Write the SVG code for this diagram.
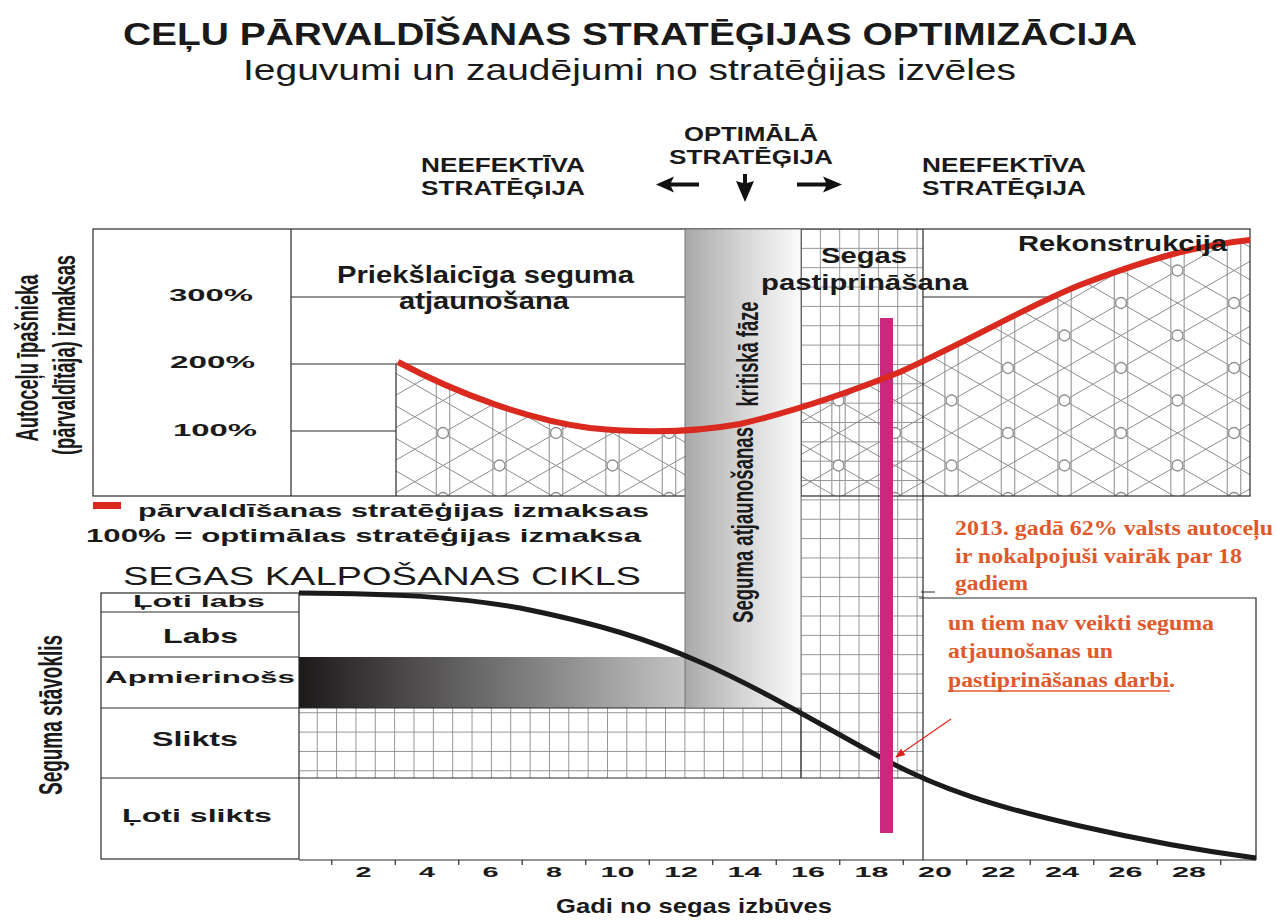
<svg xmlns="http://www.w3.org/2000/svg" width="1277" height="920" viewBox="0 0 1277 920">
<style>
.b{font-family:"Liberation Sans",Arial,sans-serif;font-weight:bold;fill:#1a1a1a}
.r{font-family:"Liberation Sans",Arial,sans-serif;fill:#1a1a1a}
.n{font-family:"Liberation Sans Narrow","Liberation Sans",Arial,sans-serif;font-weight:bold;fill:#1a1a1a}
.ann{font-family:"Liberation Serif","Times New Roman",serif;font-weight:bold;fill:#e0592b;font-size:20px}
.ln{stroke:#2a2a2a;stroke-width:1.2;fill:none}
.hd{stroke:#8c8c8c;stroke-width:1;fill:none}
.hv{stroke:#a3a7ab;stroke-width:1.3;fill:none}
.ax{font-family:"Liberation Sans",Arial,sans-serif;font-weight:bold;fill:#1a1a1a;font-size:15px}
</style>
<defs>
<pattern id="grid" patternUnits="userSpaceOnUse" x="800.5" y="228.5" width="19.35" height="19.35">
<path d="M0,0.5 H19.35 M0.5,0 V19.35" stroke="#8a8a8a" stroke-width="0.9" fill="none"/>
</pattern>
<pattern id="hatch" patternUnits="userSpaceOnUse" x="330" y="43" width="113" height="65">
<path class="hv" d="M6.7,0 V65 M49.8,0 V65 M63.2,0 V65 M106.3,0 V65"/>
<path class="hd" d="M-10,-5.75 L123,70.75 M56.5,0 L123,38.25 M-10,26.75 L66.5,70.75 M-10,70.75 L123,-5.75 M-10,38.25 L66.5,-5.75 M46.5,70.75 L123,26.75"/>
<g fill="#fff" stroke="#8a8a8a" stroke-width="1.3">
<circle cx="0" cy="0" r="5.5"/><circle cx="113" cy="0" r="5.5"/><circle cx="0" cy="65" r="5.5"/><circle cx="113" cy="65" r="5.5"/><circle cx="56.5" cy="32.5" r="5.5"/>
</g>
</pattern>
<linearGradient id="colg" x1="0" y1="0" x2="1" y2="0">
<stop offset="0" stop-color="#a9a9a9"/><stop offset="0.5" stop-color="#d5d5d5"/><stop offset="1" stop-color="#fbfbfb"/>
</linearGradient>
<linearGradient id="barg" gradientUnits="userSpaceOnUse" x1="299" y1="0" x2="801" y2="0">
<stop offset="0" stop-color="#1c1919"/><stop offset="0.77" stop-color="#c4c4c4"/><stop offset="1" stop-color="#e8e8e8"/>
</linearGradient>
<marker id="ra" markerWidth="10" markerHeight="8" refX="9" refY="4" orient="auto" markerUnits="userSpaceOnUse">
<path d="M0,0 L10,4 L0,8 Z" fill="#e0201a"/>
</marker>
</defs>
<rect width="1277" height="920" fill="#fff"/>

<g id="title">
<text class="b" x="123" y="45" font-size="32" textLength="1014" lengthAdjust="spacingAndGlyphs">CEĻU PĀRVALDĪŠANAS STRATĒĢIJAS OPTIMIZĀCIJA</text>
<text class="r" x="243" y="80" font-size="30" textLength="773" lengthAdjust="spacingAndGlyphs">Ieguvumi un zaudējumi no stratēģijas izvēles</text>
</g>

<g id="strategy-left">
<text class="b" x="421" y="172" font-size="21" textLength="164" lengthAdjust="spacingAndGlyphs">NEEFEKTĪVA</text>
<text class="b" x="421" y="195" font-size="21" textLength="164" lengthAdjust="spacingAndGlyphs">STRATĒĢIJA</text>
</g>
<g id="strategy-optimal">
<text class="b" x="684" y="141" font-size="21" textLength="134" lengthAdjust="spacingAndGlyphs">OPTIMĀLĀ</text>
<text class="b" x="669" y="164" font-size="21" textLength="164" lengthAdjust="spacingAndGlyphs">STRATĒĢIJA</text>
</g>
<g id="strategy-right">
<text class="b" x="922" y="172" font-size="21" textLength="164" lengthAdjust="spacingAndGlyphs">NEEFEKTĪVA</text>
<text class="b" x="922" y="195" font-size="21" textLength="164" lengthAdjust="spacingAndGlyphs">STRATĒĢIJA</text>
</g>

<g id="upper-chart">
<rect x="801" y="229" width="122" height="549" fill="url(#grid)"/>
<path d="M398,362 C460,395 530,420 590,428 C640,433 690,433 740,424 C800,410 850,392 900,372 C980,335 1030,305 1080,285 C1150,258 1200,245 1250,240 L1250,496 L396,496 L396,362 Z" fill="url(#hatch)"/>
<rect x="93" y="229" width="1157" height="267" class="ln"/>
<path class="ln" d="M291,229 V496 M291,297 H685 M291,364 H685 M291,431 H396 M396,364 V496 M923,229 V297 M923,297 H1054 M801,229 V496 M923,297 V496"/>
<text class="b" x="169" y="301" font-size="17" textLength="84" lengthAdjust="spacingAndGlyphs">300%</text>
<text class="b" x="170" y="368" font-size="17" textLength="85" lengthAdjust="spacingAndGlyphs">200%</text>
<text class="b" x="173" y="436" font-size="17" textLength="84" lengthAdjust="spacingAndGlyphs">100%</text>
<text class="b" x="337" y="283" font-size="24" textLength="297" lengthAdjust="spacingAndGlyphs">Priekšlaicīga seguma</text>
<text class="b" x="399" y="309" font-size="24" textLength="170" lengthAdjust="spacingAndGlyphs">atjaunošana</text>
<text class="n" font-size="32" transform="translate(38,358) rotate(-90)" text-anchor="middle" textLength="167" lengthAdjust="spacingAndGlyphs">Autoceļu īpašnieka</text>
<text class="n" font-size="32" transform="translate(75,355) rotate(-90)" text-anchor="middle" textLength="200" lengthAdjust="spacingAndGlyphs">(pārvaldītāja) izmaksas</text>
</g>

<g id="lower-chart">
<rect x="299" y="657" width="502" height="51" fill="url(#barg)"/>
<rect x="299" y="708" width="502" height="70" fill="url(#grid)"/>
<rect x="101" y="593" width="198" height="266" class="ln"/>
<path class="ln" d="M101,612 H299 M101,657 H299 M101,708 H801 M101,778 H923 M299,593 H685 M299,860 H1256 M923,496 V860 M801,708 V778 M919,598 H1256 V860 M921,592 H935"/>
<text class="b" x="133" y="607" font-size="17" textLength="132" lengthAdjust="spacingAndGlyphs">Ļoti labs</text>
<text class="b" x="163" y="643" font-size="21" textLength="75" lengthAdjust="spacingAndGlyphs">Labs</text>
<text class="b" x="105" y="683" font-size="17" textLength="190" lengthAdjust="spacingAndGlyphs">Apmierinošs</text>
<text class="b" x="152" y="746" font-size="21" textLength="86" lengthAdjust="spacingAndGlyphs">Slikts</text>
<text class="b" x="122" y="822" font-size="19" textLength="150" lengthAdjust="spacingAndGlyphs">Ļoti slikts</text>
<text class="r" x="123" y="585" font-size="26" textLength="518" lengthAdjust="spacingAndGlyphs">SEGAS KALPOŠANAS CIKLS</text>
<text class="n" font-size="33" transform="translate(62,715) rotate(-90)" text-anchor="middle" textLength="160" lengthAdjust="spacingAndGlyphs">Seguma stāvoklis</text>
</g>

<g id="critical-phase">
<rect x="685" y="229" width="116" height="479" fill="url(#colg)" stroke="#6a6a6a" stroke-width="0.9"/>
<text class="n" font-size="30" transform="translate(753,525) rotate(-90)" text-anchor="middle" textLength="196" lengthAdjust="spacingAndGlyphs">Seguma atjaunošanas</text>
<text class="n" font-size="30" transform="translate(758,354) rotate(-90)" text-anchor="middle" textLength="105" lengthAdjust="spacingAndGlyphs">kritiskā fāze</text>
</g>

<g id="strengthening-label">
<text class="b" x="821" y="263" font-size="22" textLength="86" lengthAdjust="spacingAndGlyphs">Segas</text>
<text class="b" x="761" y="290" font-size="22" textLength="207" lengthAdjust="spacingAndGlyphs">pastiprināšana</text>
</g>

<g id="x-axis">
<path class="ln" d="M331.75,860 V865 M395.25,860 V865 M458.75,860 V865 M522.25,860 V865 M585.75,860 V865 M649.25,860 V865 M712.75,860 V865 M776.25,860 V865 M839.75,860 V865 M903.25,860 V865 M966.75,860 V865 M1030.25,860 V865 M1093.75,860 V865 M1157.25,860 V865 M1220.75,860 V865"/>
<g text-anchor="middle" class="ax">
<text x="363.5" y="877" textLength="16" lengthAdjust="spacingAndGlyphs">2</text>
<text x="427" y="877" textLength="16" lengthAdjust="spacingAndGlyphs">4</text>
<text x="490.5" y="877" textLength="16" lengthAdjust="spacingAndGlyphs">6</text>
<text x="554" y="877" textLength="16" lengthAdjust="spacingAndGlyphs">8</text>
<text x="617.5" y="877" textLength="34" lengthAdjust="spacingAndGlyphs">10</text>
<text x="681" y="877" textLength="34" lengthAdjust="spacingAndGlyphs">12</text>
<text x="744.5" y="877" textLength="34" lengthAdjust="spacingAndGlyphs">14</text>
<text x="808" y="877" textLength="34" lengthAdjust="spacingAndGlyphs">16</text>
<text x="871.5" y="877" textLength="34" lengthAdjust="spacingAndGlyphs">18</text>
<text x="935" y="877" textLength="34" lengthAdjust="spacingAndGlyphs">20</text>
<text x="998.5" y="877" textLength="34" lengthAdjust="spacingAndGlyphs">22</text>
<text x="1062" y="877" textLength="34" lengthAdjust="spacingAndGlyphs">24</text>
<text x="1125.5" y="877" textLength="34" lengthAdjust="spacingAndGlyphs">26</text>
<text x="1189" y="877" textLength="34" lengthAdjust="spacingAndGlyphs">28</text>
</g>
<text class="b" x="556" y="913" font-size="21" textLength="276" lengthAdjust="spacingAndGlyphs">Gadi no segas izbūves</text>
</g>

<g id="condition-curve">
<path d="M299,593 C400,594 450,596 520,608 C600,624 650,640 700,662 C760,688 830,730 880,757 C940,790 1000,808 1080,826 C1150,842 1210,852 1256,858" fill="none" stroke="#1c1a1a" stroke-width="5"/>
</g>

<g id="marker-2013">
<rect x="880" y="318" width="13" height="515" fill="#c8297c"/>
</g>

<g id="cost-curve">
<path d="M398,362 C460,395 530,420 590,428 C640,433 690,433 740,424 C800,410 850,392 900,372 C980,335 1030,305 1080,285 C1150,258 1200,245 1250,240" fill="none" stroke="#da2a1f" stroke-width="6"/>
<text class="b" x="1018" y="251" font-size="22" textLength="209" lengthAdjust="spacingAndGlyphs">Rekonstrukcija</text>
</g>

<g id="legend">
<rect x="93" y="502" width="28" height="7" fill="#da2a1f"/>
<text class="b" x="138" y="517" font-size="18" textLength="511" lengthAdjust="spacingAndGlyphs">pārvaldīšanas stratēģijas izmaksas</text>
<text class="b" x="86" y="542" font-size="18" textLength="555" lengthAdjust="spacingAndGlyphs">100% = optimālas stratēģijas izmaksa</text>
</g>

<g id="annotation">
<text class="ann" x="955" y="535" textLength="318" lengthAdjust="spacingAndGlyphs">2013. gadā 62% valsts autoceļu</text>
<text class="ann" x="955" y="563" textLength="287" lengthAdjust="spacingAndGlyphs">ir nokalpojuši vairāk par 18</text>
<text class="ann" x="955" y="590" textLength="73" lengthAdjust="spacingAndGlyphs">gadiem</text>
<text class="ann" x="948" y="630" textLength="266" lengthAdjust="spacingAndGlyphs">un tiem nav veikti seguma</text>
<text class="ann" x="948" y="658" textLength="165" lengthAdjust="spacingAndGlyphs">atjaunošanas un</text>
<text class="ann" x="948" y="687" textLength="227" lengthAdjust="spacingAndGlyphs">pastiprināšanas darbi.</text>
<line x1="948" y1="691" x2="1170" y2="691" stroke="#e0592b" stroke-width="1.6"/>
</g>

<g id="connectors">
<path d="M656,184.5 L674,176.5 L671,182.5 L699,182.5 L699,186.5 L671,186.5 L674,192.5 Z" fill="#111"/>
<path d="M743,174 H747 V183 L754,181 L745,202 L736,181 L743,183 Z" fill="#111"/>
<path d="M842,184.5 L823,176.5 L826,182.5 L797,182.5 L797,186.5 L826,186.5 L823,192.5 Z" fill="#111"/>
<line x1="951" y1="719" x2="896" y2="757" stroke="#e0201a" stroke-width="1.1" marker-end="url(#ra)"/>
</g>
</svg>
